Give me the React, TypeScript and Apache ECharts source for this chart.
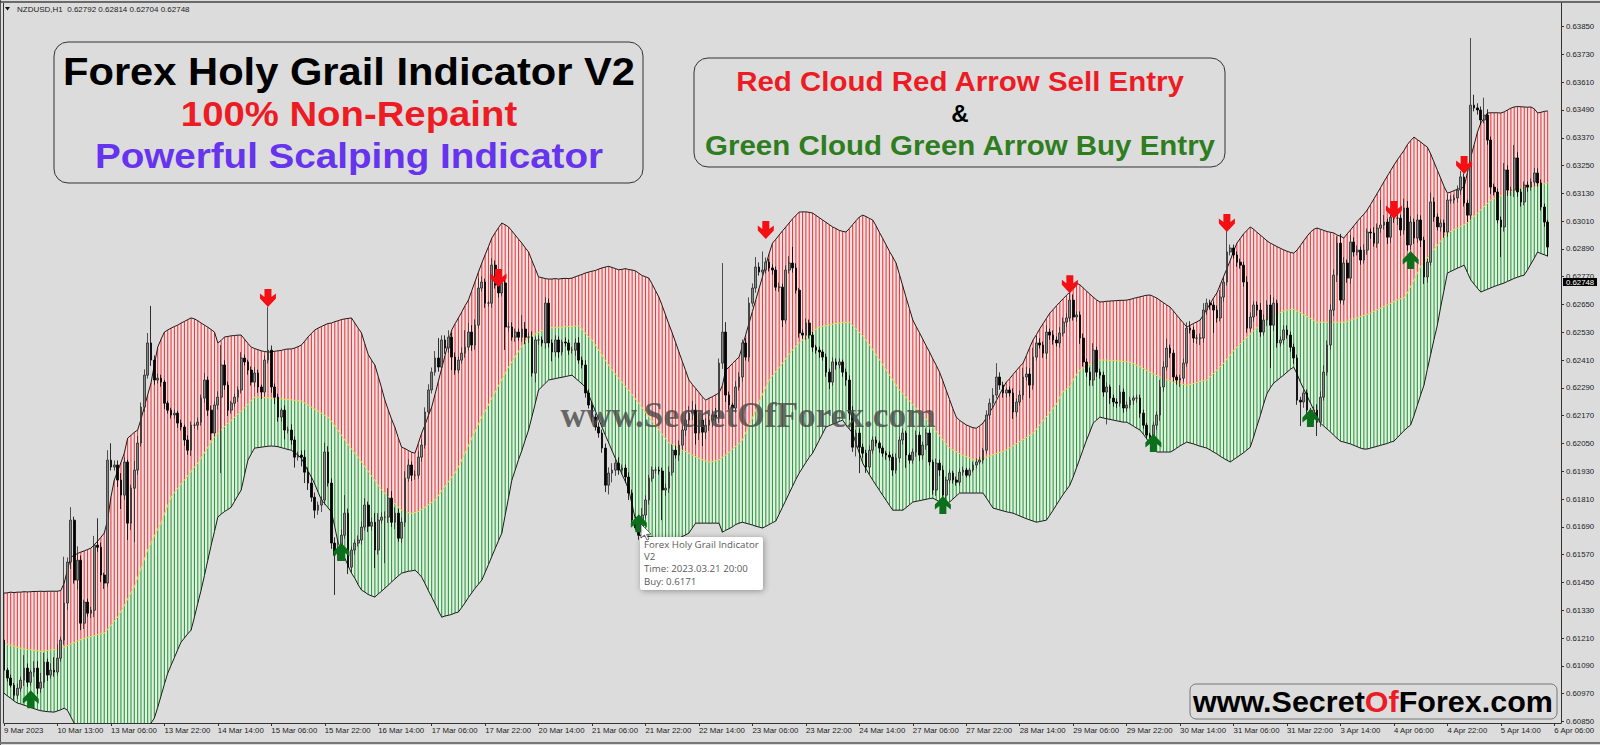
import React, { useEffect, useRef } from "react";
import * as echarts from "echarts";

// Prices are stored as points above 0.60000 (1 point = 0.00001).
const upperBand = [
1404,1405,1408,1406,1408,1408,1410,1409,1410,1411,
1411,1412,1411,1412,1412,1412,1412,1415,1447,1505,
1559,1567,1575,1581,1586,1592,1598,1612,1628,1645,
1663,1719,1818,1892,1930,1968,2008,2073,2085,2098,
2108,2155,2207,2260,2311,2390,2466,2500,2531,2540,
2548,2555,2561,2570,2577,2585,2592,2588,2580,2570,
2561,2552,2542,2531,2484,2495,2510,2512,2515,2516,
2518,2518,2500,2482,2466,2460,2455,2450,2447,2445,
2445,2448,2450,2452,2456,2458,2458,2462,2468,2475,
2492,2510,2525,2540,2548,2555,2562,2568,2570,2576,
2580,2585,2588,2590,2592,2570,2548,2527,2480,2435,
2410,2389,2340,2290,2237,2195,2155,2120,2075,2034,
2028,2020,2012,2008,2050,2095,2130,2170,2207,2262,
2318,2375,2430,2487,2540,2567,2592,2618,2645,2669,
2710,2750,2790,2829,2865,2900,2937,2960,2982,3002,
2994,2985,2968,2950,2932,2915,2895,2877,2840,2805,
2769,2766,2762,2760,2760,2762,2760,2762,2763,2762,
2764,2770,2775,2780,2786,2790,2794,2797,2803,2808,
2812,2815,2810,2805,2800,2802,2805,2801,2799,2795,
2785,2775,2770,2764,2738,2710,2682,2645,2605,2565,
2527,2487,2445,2405,2365,2324,2305,2288,2270,2252,
2237,2245,2252,2260,2268,2300,2367,2380,2395,2410,
2423,2470,2520,2570,2620,2670,2720,2769,2820,2870,
2915,2932,2950,2968,2985,3002,3020,3035,3049,3050,
3050,3048,3045,3035,3025,3015,3005,2995,2985,2978,
2970,2966,2963,2978,2995,3012,3028,3036,3030,3022,
3015,2990,2962,2935,2908,2880,2855,2829,2780,2730,
2680,2632,2583,2555,2528,2500,2472,2445,2415,2388,
2358,2320,2280,2240,2200,2164,2150,2140,2130,2124,
2118,2116,2126,2138,2160,2185,2207,2235,2262,2290,
2315,2330,2348,2365,2382,2397,2430,2465,2497,2520,
2545,2568,2590,2613,2628,2645,2660,2675,2690,2704,
2722,2743,2735,2722,2708,2695,2682,2670,2661,2662,
2664,2665,2666,2667,2668,2668,2669,2672,2676,2680,
2683,2687,2690,2691,2685,2678,2668,2658,2648,2639,
2622,2604,2587,2570,2553,2560,2568,2575,2583,2606,
2630,2654,2678,2700,2735,2770,2805,2840,2880,2915,
2935,2955,2970,2985,2975,2962,2950,2938,2925,2915,
2908,2900,2893,2886,2880,2875,2872,2885,2905,2925,
2945,2962,2975,2980,2975,2970,2965,2962,2959,2950,
2945,2937,2955,2972,2990,3008,3025,3040,3058,3082,
3106,3130,3155,3180,3204,3228,3252,3274,3295,3315,
3340,3358,3373,3362,3352,3340,3330,3300,3265,3230,
3195,3160,3131,3136,3142,3148,3152,3157,3220,3287,
3340,3395,3434,3455,3477,3478,3478,3478,3477,3482,
3490,3498,3503,3505,3504,3503,3502,3503,3495,3477,
3480,3484,3486];

const midBand = [
1188,1183,1179,1175,1170,1166,1163,1161,1159,1157,
1155,1153,1154,1156,1158,1160,1163,1167,1171,1177,
1184,1190,1197,1203,1209,1213,1217,1221,1225,1228,
1231,1247,1265,1283,1300,1325,1350,1378,1405,1430,
1470,1510,1550,1590,1620,1650,1680,1706,1745,1782,
1818,1838,1856,1875,1892,1910,1930,1948,1965,1988,
2010,2033,2056,2078,2093,2108,2123,2138,2150,2163,
2177,2190,2203,2218,2235,2250,2250,2249,2248,2247,
2246,2245,2244,2243,2241,2240,2238,2236,2234,2233,
2225,2216,2207,2198,2190,2181,2172,2164,2146,2126,
2105,2085,2065,2045,2026,2008,1991,1970,1950,1930,
1910,1890,1870,1849,1835,1820,1805,1790,1775,1762,
1756,1752,1749,1752,1757,1765,1775,1785,1795,1806,
1825,1845,1865,1885,1905,1925,1948,1978,2010,2040,
2072,2103,2134,2164,2190,2217,2245,2272,2299,2326,
2353,2380,2402,2425,2447,2470,2490,2509,2516,2523,
2530,2537,2543,2548,2550,2551,2552,2553,2554,2555,
2556,2557,2557,2543,2527,2510,2497,2475,2453,2430,
2408,2387,2367,2350,2332,2314,2296,2278,2260,2242,
2224,2204,2185,2166,2147,2128,2109,2090,2071,2052,
2045,2038,2030,2022,2015,2008,2000,1993,1986,1980,
1975,1970,1972,1975,1980,1990,2000,2012,2025,2038,
2050,2065,2096,2128,2160,2195,2230,2262,2293,2324,
2342,2360,2378,2396,2416,2436,2454,2470,2484,2496,
2508,2520,2532,2544,2553,2556,2559,2562,2565,2568,
2570,2572,2573,2574,2560,2545,2530,2514,2497,2476,
2455,2434,2412,2390,2368,2346,2325,2303,2281,2265,
2249,2233,2217,2201,2185,2170,2155,2138,2120,2102,
2084,2066,2048,2030,2022,2014,2006,2000,1994,1988,
1982,1978,1982,1986,1991,1996,2001,2006,2011,2016,
2022,2031,2040,2049,2058,2067,2076,2086,2095,2112,
2130,2148,2166,2184,2202,2220,2250,2275,2285,2294,
2325,2347,2367,2376,2384,2392,2400,2406,2410,2410,
2410,2409,2408,2407,2406,2404,2403,2401,2395,2388,
2381,2374,2366,2358,2350,2343,2337,2330,2325,2320,
2316,2312,2308,2305,2302,2305,2309,2313,2318,2321,
2324,2338,2352,2366,2380,2396,2414,2432,2450,2466,
2480,2494,2508,2522,2536,2550,2564,2578,2592,2598,
2604,2610,2616,2622,2626,2628,2630,2622,2614,2606,
2598,2590,2582,2574,2574,2574,2574,2574,2574,2574,
2574,2574,2578,2583,2588,2593,2598,2603,2608,2613,
2620,2627,2634,2641,2648,2655,2662,2670,2675,2678,
2700,2728,2755,2785,2815,2833,2851,2870,2888,2906,
2924,2942,2959,2966,2973,2980,2988,2995,3002,3017,
3031,3045,3059,3073,3087,3101,3108,3114,3120,3126,
3132,3138,3144,3147,3150,3153,3156,3158,3161,3164,
3168,3171,3175];

const lowerBand = [
972,960,950,938,929,925,920,915,910,905,
900,896,894,892,891,890,895,900,907,898,
870,842,815,790,770,750,735,720,710,700,
695,690,688,685,685,688,690,695,700,705,
740,780,800,820,842,864,910,960,1010,1058,
1092,1125,1160,1192,1210,1228,1244,1300,1360,1417,
1480,1546,1610,1670,1732,1745,1756,1765,1775,1800,
1825,1849,1915,1978,2005,2030,2032,2034,2036,2038,
2039,2038,2036,2032,2028,2024,2021,2010,2000,1985,
1960,1930,1905,1875,1840,1806,1790,1772,1754,1690,
1620,1590,1555,1522,1490,1468,1440,1417,1408,1398,
1392,1387,1400,1412,1425,1438,1452,1465,1478,1490,
1494,1498,1500,1503,1490,1473,1445,1415,1387,1358,
1328,1300,1305,1308,1312,1318,1322,1342,1362,1385,
1405,1425,1442,1460,1493,1527,1562,1596,1630,1663,
1740,1815,1892,1935,1980,2020,2065,2108,2165,2222,
2281,2295,2310,2324,2327,2330,2333,2336,2339,2342,
2345,2332,2320,2307,2293,2260,2225,2190,2155,2120,
2085,2052,2018,1985,1950,1915,1885,1849,1785,1720,
1654,1652,1650,1648,1646,1643,1641,1641,1641,1641,
1641,1641,1641,1648,1655,1663,1685,1706,1706,1706,
1706,1706,1706,1706,1706,1667,1675,1682,1690,1700,
1706,1710,1706,1702,1698,1693,1689,1685,1692,1700,
1708,1715,1745,1775,1805,1835,1865,1895,1922,1945,
1968,1990,2008,2036,2064,2092,2121,2127,2133,2139,
2145,2151,2130,2112,2095,2050,2008,1965,1940,1915,
1892,1870,1848,1826,1805,1783,1762,1762,1762,1762,
1773,1785,1797,1800,1803,1806,1809,1812,1814,1806,
1799,1791,1784,1797,1810,1823,1836,1836,1836,1836,
1836,1836,1836,1836,1815,1793,1771,1767,1763,1759,
1755,1752,1749,1743,1737,1731,1725,1720,1715,1710,
1713,1716,1719,1740,1762,1785,1808,1830,1850,1870,
1905,1945,1985,2025,2065,2100,2138,2151,2164,2160,
2157,2154,2151,2148,2145,2142,2142,2134,2125,2116,
2108,2090,2070,2050,2030,2013,2013,2013,2013,2013,
2020,2030,2040,2048,2056,2052,2048,2043,2038,2034,
2030,2022,2013,2005,1995,1986,1978,1970,1980,1990,
2000,2010,2022,2034,2078,2125,2170,2220,2265,2290,
2311,2322,2334,2345,2358,2370,2380,2350,2315,2285,
2255,2225,2195,2165,2138,2125,2112,2100,2085,2072,
2060,2056,2052,2048,2042,2036,2030,2026,2026,2030,
2034,2038,2042,2046,2050,2056,2060,2075,2090,2105,
2118,2130,2170,2215,2260,2302,2370,2435,2500,2561,
2640,2712,2786,2793,2800,2807,2813,2820,2788,2756,
2738,2720,2704,2710,2716,2722,2728,2733,2738,2743,
2750,2756,2763,2768,2773,2777,2800,2825,2850,2877,
2870,2865,2859];

const firstOpen = 1201;
const closes = [
1071,1037,1006,963,993,1028,1080,1019,1063,1080,
993,1019,1106,1050,1071,1063,1123,1201,1361,1538,
1719,1460,1546,1274,1365,1317,1330,1611,1602,1482,
1447,1978,1948,1957,1892,1827,1970,1706,1857,1935,
2052,2207,2345,2484,2410,2324,2332,2315,2224,2194,
2173,2181,2138,2121,2065,2021,2129,2129,2142,2246,
2324,2194,2095,2216,2250,2389,2302,2194,2224,2250,
2281,2419,2402,2367,2315,2354,2294,2272,2410,2453,
2294,2250,2164,2194,2108,2108,2065,1991,2000,1991,
1926,1879,1818,1762,1784,1806,2013,1879,1620,1568,
1598,1654,1749,1516,1590,1620,1633,1689,1784,1693,
1710,1590,1719,1732,1732,1814,1710,1749,1641,1710,
1900,1957,1913,1913,1991,2043,2186,2281,2358,2419,
2380,2497,2462,2509,2423,2367,2410,2440,2466,2531,
2475,2561,2721,2747,2656,2656,2820,2734,2700,2743,
2553,2553,2509,2531,2509,2544,2509,2509,2354,2497,
2497,2484,2656,2484,2445,2497,2445,2488,2484,2453,
2453,2484,2410,2389,2268,2216,2164,2121,2095,2030,
1870,1922,1935,1965,1935,1944,1905,1836,1719,1685,
1654,1741,1806,1900,1935,1935,1931,1849,1857,1926,
2021,2000,2043,2108,2151,2181,2194,2095,2151,2099,
2129,2151,2173,2164,2397,2531,2259,2216,2203,2294,
2337,2484,2423,2656,2721,2812,2790,2799,2833,2808,
2799,2725,2725,2583,2799,2829,2808,2712,2527,2518,
2570,2518,2466,2453,2445,2423,2358,2315,2402,2389,
2402,2358,2324,2181,2034,2095,2034,2008,1948,2021,
2065,2052,2030,2008,2000,1991,1935,1987,2065,2095,
2000,1978,2013,2086,2000,2043,2095,1970,1849,1965,
1935,1827,1892,1922,1892,1883,1926,1935,1913,1935,
1957,1970,1978,2021,2173,2224,2259,2337,2302,2268,
2281,2268,2186,2229,2259,2337,2350,2302,2423,2484,
2475,2440,2531,2518,2497,2484,2527,2574,2592,2669,
2596,2605,2505,2402,2358,2324,2453,2358,2345,2272,
2294,2246,2229,2224,2272,2203,2216,2237,2246,2246,
2181,2129,2086,2078,2129,2173,2294,2380,2462,2440,
2337,2324,2332,2397,2548,2540,2505,2505,2505,2626,
2656,2648,2626,2592,2682,2747,2877,2894,2864,2833,
2820,2747,2548,2596,2648,2626,2531,2583,2648,2561,
2656,2484,2497,2540,2518,2466,2419,2237,2229,2268,
2194,2164,2194,2142,2250,2358,2475,2626,2777,2915,
2669,2829,2764,2920,2877,2885,2842,2885,2963,2959,
2915,2980,2993,3006,2941,3028,3023,3023,2972,3067,
2907,3006,2937,3015,2928,2769,2833,3093,3028,2985,
3002,2963,3101,3101,3110,3144,3201,3088,3036,3511,
3499,3490,3447,3468,3360,3157,3136,3015,2985,3231,
3144,3144,3283,3136,3093,3166,3157,3179,3218,3175,
3071,3006,2898];

const upperWicks = [
56,10,15,10,20,15,56,20,10,30,
30,40,40,15,30,56,60,15,200,20,
56,15,60,20,10,15,15,40,116,20,
10,43,73,20,20,30,20,10,15,40,
30,20,25,43,160,20,20,15,10,10,
10,15,10,15,10,20,15,10,20,15,
30,15,20,15,25,86,20,15,10,15,
15,25,15,10,15,25,15,10,20,186,
20,15,15,10,20,15,25,15,15,20,
30,20,25,20,15,15,40,25,20,25,
30,25,78,20,15,15,20,25,30,15,
20,40,30,20,25,43,30,25,20,20,
30,25,15,20,25,25,20,25,20,30,
86,20,20,30,20,20,15,25,73,40,
30,25,43,25,15,10,30,20,15,30,
15,20,20,15,15,60,30,20,25,15,
20,15,26,20,15,20,15,10,20,15,
15,20,25,15,20,15,15,15,20,15,
20,25,30,20,25,15,15,20,15,15,
20,30,20,15,15,15,15,15,20,25,
25,20,20,20,30,30,40,25,30,25,
30,25,20,30,20,298,43,15,10,25,
20,15,20,25,20,43,20,80,20,15,
15,15,20,15,20,30,70,20,10,15,
20,15,15,10,15,10,15,15,20,15,
15,10,15,20,30,15,20,15,15,20,
15,15,10,10,10,15,15,20,15,20,
10,10,15,20,15,15,20,15,10,20,
15,20,15,15,10,15,15,15,10,10,
15,15,15,10,20,20,30,60,20,15,
10,15,20,15,20,40,30,25,40,30,
20,15,30,15,20,15,25,20,20,60,
25,15,15,20,15,20,30,15,15,15,
20,10,15,15,30,15,15,15,10,15,
15,15,10,10,15,15,30,25,40,15,
15,10,15,20,25,30,15,15,20,30,
20,15,15,20,30,25,95,15,15,15,
15,15,25,20,15,15,30,25,20,43,
25,15,15,20,20,15,15,15,15,15,
15,10,15,25,25,30,20,25,25,30,
40,25,15,30,20,20,15,25,15,15,
25,20,108,30,15,20,15,15,15,40,
30,25,15,25,20,15,15,40,20,15,
15,15,25,20,15,20,25,15,15,290,
45,20,15,75,25,15,15,15,15,30,
20,15,56,25,15,15,15,15,22,20,
15,15,10];

const lowerWicks = [
20,15,10,20,15,15,25,20,15,20,
25,20,25,25,15,20,15,15,20,30,
30,15,40,30,25,15,20,30,20,30,
25,15,15,15,30,60,20,73,30,233,
20,15,20,15,25,20,15,20,25,15,
15,15,20,15,25,20,25,15,20,15,
20,25,30,15,20,328,20,25,15,15,
20,15,15,20,15,20,25,30,20,15,
25,30,20,20,40,15,20,45,15,40,
47,30,20,35,20,30,20,15,25,172,
25,20,15,30,25,20,15,20,15,25,
20,78,20,15,199,25,20,30,15,20,
20,15,25,20,15,20,15,20,15,15,
20,15,25,20,56,20,15,15,20,15,
25,20,15,15,20,15,20,15,20,15,
99,20,15,20,15,20,30,25,15,40,
20,15,25,20,40,20,25,15,15,20,
15,25,15,15,20,15,20,15,20,20,
30,40,40,25,20,15,25,30,20,10,
20,15,15,20,15,15,15,130,25,20,
15,15,25,20,25,30,30,50,30,60,
30,25,30,20,25,25,30,20,15,20,
15,20,15,20,15,20,15,15,15,15,
20,15,20,30,15,15,20,15,20,15,
20,15,20,15,25,15,20,30,15,20,
15,20,25,30,20,40,112,20,25,30,
15,15,20,15,20,15,25,15,20,20,
55,15,15,20,25,20,20,15,20,25,
25,20,20,15,15,15,15,15,10,10,
10,15,10,15,15,20,20,15,20,20,
20,15,30,20,15,20,15,56,20,15,
15,20,25,20,20,15,20,15,20,15,
15,20,25,20,20,25,25,20,15,20,
140,25,20,20,15,20,15,15,20,20,
20,15,15,15,15,20,25,20,15,20,
20,20,30,15,15,15,20,25,30,20,
20,20,99,20,15,20,15,15,15,20,
15,20,20,15,20,25,20,15,25,185,
25,20,15,20,15,20,25,20,104,25,
20,15,25,60,20,15,15,20,25,30,
15,20,20,25,20,15,20,15,20,25,
15,20,20,20,30,25,20,30,25,20,
25,20,25,20,30,30,25,15,20,15,
20,25,20,15,15,20,20,15,30,20,
15,20,20,15,20,30,15,15,130,20,
25,25,30,20,20,15,20,15,20,15,
15,20,40];

const sellSignals = [[79,2678],[148,2764],[228,2972],[319,2738],[366,3002],[416,3058],[437,3252]];
const buySignals = [[8,946],[101,1581],[190,1706],[281,1784],[344,2052],[391,2160],[421,2842]];

const timeLabels = ["9 Mar 2023","10 Mar 13:00","13 Mar 06:00","13 Mar 22:00","14 Mar 14:00","15 Mar 06:00","15 Mar 22:00","16 Mar 14:00","17 Mar 06:00","17 Mar 22:00","20 Mar 14:00","21 Mar 06:00","21 Mar 22:00","22 Mar 14:00","23 Mar 06:00","23 Mar 22:00","24 Mar 14:00","27 Mar 06:00","27 Mar 22:00","28 Mar 14:00","29 Mar 06:00","29 Mar 22:00","30 Mar 14:00","31 Mar 06:00","31 Mar 22:00","3 Apr 14:00","4 Apr 06:00","4 Apr 22:00","5 Apr 14:00","6 Apr 06:00"];
const priceTicks = [0.6385,0.6373,0.6361,0.6349,0.6337,0.6325,0.6313,0.6301,0.6289,0.6277,0.6265,0.6253,0.6241,0.6229,0.6217,0.6205,0.6193,0.6181,0.6169,0.6157,0.6145,0.6133,0.6121,0.6109,0.6097,0.6085];
const titleLines = ["Forex Holy Grail Indicator V2","100% Non-Repaint","Powerful Scalping Indicator"];
const entryLines = ["Red Cloud Red Arrow Sell Entry","&","Green Cloud Green Arrow Buy Entry"];
const tooltipLines = ["Forex Holy Grail Indicator","V2","Time: 2023.03.21 20:00","Buy: 0.6171"];

const price = (p: number) => +(0.6 + p / 100000).toFixed(5);
const SLOT_COUNT = 467;
const categories = Array.from({ length: SLOT_COUNT }, (_, i) => (i % 16 === 0 ? timeLabels[i / 16] ?? "" : ""));

const candles = closes.map((c, i) => {
  const o = i === 0 ? firstOpen : closes[i - 1];
  return [price(o), price(c), price(Math.min(o, c) - lowerWicks[i]), price(Math.max(o, c) + upperWicks[i])];
});

const BAR_STEP = 1557 / (SLOT_COUNT - 1);
const cloud = (pale: string, bar: string) => (_: any, api: any) => {
  const a = api.coord([api.value(0), api.value(1)]);
  const b = api.coord([api.value(0), api.value(2)]);
  const h = b[1] - a[1];
  return {
    type: "group",
    children: [
      { type: "rect", shape: { x: a[0] - BAR_STEP / 2, y: a[1], width: BAR_STEP, height: h }, style: { fill: pale } },
      { type: "rect", shape: { x: a[0] - 0.55, y: a[1], width: 1.1, height: h }, style: { fill: bar } },
    ],
  };
};

const SANS = '"Liberation Sans"';
const txt = (text: string, x: number, y: number, fill: string, font: string, align = "center", scaleX = 1) => ({
  type: "text", z: 100, x, y, scaleX,
  style: { text, x: 0, y: 0, fill, font, textAlign: align, textVerticalAlign: "middle" },
});
const box = (x: number, y: number, width: number, height: number, r: number, stroke: string) => ({
  type: "rect", z: 99, shape: { x, y, width, height, r }, style: { fill: "transparent", stroke, lineWidth: 1 },
});
const hline = (x1: number, y1: number, x2: number, y2: number, stroke: string, lineWidth = 1) => ({
  type: "line", z: 98, shape: { x1, y1, x2, y2 }, style: { stroke, lineWidth },
});

const DOWN_ARROW = "path://M4.5 0H11.5V8L16 4.5V9.5L8 18L0 9.5V4.5L4.5 8Z";
const UP_ARROW = "path://M4.5 18H11.5V10L16 13.5V8.5L8 0L0 8.5V13.5L4.5 10Z";

export default function App() {
  const ref = useRef<HTMLDivElement>(null);
  useEffect(() => {
    document.body.style.margin = "0";
    const chart = echarts.init(ref.current!, null, { renderer: "svg" });
    chart.setOption({
      animation: false,
      backgroundColor: "#dcdcdc",
      grid: { left: 4, top: 3, width: 1557, height: 720, containLabel: false },
      xAxis: {
        type: "category", data: categories, boundaryGap: false,
        axisLine: { lineStyle: { color: "#333", width: 1 } },
        axisTick: { interval: 15, length: 3, lineStyle: { color: "#333" } },
        axisLabel: { interval: 15, align: "left", margin: 3, fontSize: 7.8, color: "#222", fontFamily: SANS, hideOverlap: false },
        splitLine: { show: false },
      },
      yAxis: {
        type: "value", position: "right", min: 0.60843, max: 0.63952, scale: true,
        axisLine: { show: true, lineStyle: { color: "#333", width: 1 } },
        axisTick: { show: true, length: 3, lineStyle: { color: "#333" }, customValues: priceTicks },
        axisLabel: { margin: 5, fontSize: 7.8, color: "#222", fontFamily: SANS, customValues: priceTicks, formatter: (v: number) => v.toFixed(5) },
        splitLine: { show: false },
      },
      series: [
        {
          type: "custom", name: "Red cloud", z: 1, clip: true, encode: { x: 0, y: [1, 2] },
          renderItem: cloud("#fde0e0", "#de4045"),
          data: upperBand.map((u, i) => [i, price(u), price(midBand[i])]),
        },
        {
          type: "custom", name: "Green cloud", z: 1, clip: true, encode: { x: 0, y: [1, 2] },
          renderItem: cloud("#dcf8dc", "#3b8f4c"),
          data: midBand.map((m, i) => [i, price(m), price(lowerBand[i])]),
        },
        { type: "line", name: "Upper", z: 2, data: upperBand.map(price), showSymbol: false, lineStyle: { color: "#1a1a1a", width: 1 } },
        { type: "line", name: "Lower", z: 2, data: lowerBand.map(price), showSymbol: false, lineStyle: { color: "#1a1a1a", width: 1 } },
        { type: "line", name: "Middle", z: 2, data: midBand.map(price), showSymbol: false, lineStyle: { color: "#e8da60", width: 1 } },
        {
          type: "candlestick", name: "NZDUSD", z: 3, barWidth: 2.2, data: candles,
          itemStyle: { color: "#858585", color0: "#000", borderColor: "#2a2a2a", borderColor0: "#000", borderWidth: 0.8 },
        },
        {
          type: "scatter", name: "Sell", z: 4, symbol: DOWN_ARROW, symbolSize: [16, 18], itemStyle: { color: "#f40f14", opacity: 1 },
          data: sellSignals.map(([i, p]) => [i, price(p)]),
        },
        {
          type: "scatter", name: "Buy", z: 4, symbol: UP_ARROW, symbolSize: [16, 18], itemStyle: { color: "#0b6f1c", opacity: 1 },
          data: buySignals.map(([i, p]) => [i, price(p)]),
        },
      ],
      graphic: [
        hline(0.5, 0, 0.5, 745, "#555"),
        hline(3.5, 3, 3.5, 723, "#333"),
        hline(0, 2, 1600, 2, "#444", 1.5),
        hline(0, 743, 1600, 743, "#777", 2),
        box(54, 42, 589, 141, 14, "#333"),
        txt(titleLines[0], 349, 72, "#000", `bold 38px ${SANS}`, "center", 1.097),
        txt(titleLines[1], 349, 114.5, "#ed1c24", `bold 35px ${SANS}`, "center", 1.095),
        txt(titleLines[2], 349, 156, "#6633ee", `bold 35px ${SANS}`, "center", 1.103),
        box(694, 58, 531, 109, 14, "#333"),
        txt(entryLines[0], 960, 81.5, "#ed1c24", `bold 28px ${SANS}`, "center", 1.053),
        txt(entryLines[1], 960, 113.5, "#000", `bold 24px ${SANS}`),
        txt(entryLines[2], 960, 145.5, "#2e7d1f", `bold 28px ${SANS}`, "center", 1.053),
        txt("www.SecretOfForex.com", 748, 415, "rgba(70,70,70,0.8)", 'bold 35.3px "Liberation Serif"'),
        {
          type: "rect", z: 99, shape: { x: 1190, y: 684, width: 367, height: 35, r: 6 },
          style: { fill: "#dcdcdc", stroke: "#777", lineWidth: 1 },
        },
        {
          type: "text", z: 100, x: 1373, y: 702, scaleX: 1.017,
          style: {
            text: "{a|www.Secret}{b|Of}{a|Forex.com}", x: 0, y: 0, textAlign: "center", textVerticalAlign: "middle",
            rich: {
              a: { fill: "#000", fontSize: 30, fontWeight: "bold", fontFamily: SANS },
              b: { fill: "#ed1c24", fontSize: 30, fontWeight: "bold", fontFamily: SANS },
            },
          },
        },
        {
          type: "rect", z: 101, shape: { x: 640, y: 537, width: 123, height: 53, r: 3 },
          style: { fill: "#fff", shadowBlur: 6, shadowColor: "rgba(0,0,0,0.35)", shadowOffsetX: 1, shadowOffsetY: 1 },
        },
        ...tooltipLines.map((t, i) => ({
          type: "text", z: 102,
          style: { text: t, x: 644, y: 544 + i * 12.4, fill: "#5a5a5a", font: '9.7px "Open Sans"', textAlign: "left", textVerticalAlign: "middle" },
        })),
        {
          type: "polygon", z: 103,
          shape: { points: [[641, 524], [641, 538], [644.5, 535], [647, 540], [649, 539], [646.5, 534.5], [651, 534]] },
          style: { fill: "#fff", stroke: "#333", lineWidth: 0.7 },
        },
        { type: "polygon", z: 100, shape: { points: [[5, 7], [10, 7], [7.5, 10.5]] }, style: { fill: "#111" } },
        txt("NZDUSD,H1  0.62792 0.62814 0.62704 0.62748", 17, 9.5, "#222", `8px ${SANS}`, "left"),
        { type: "rect", z: 100, shape: { x: 1563, y: 278, width: 34, height: 8 }, style: { fill: "#000" } },
        txt("0.62748", 1566, 282, "#fff", `7.8px ${SANS}`, "left"),
      ],
    });
    return () => chart.dispose();
  }, []);
  return <div ref={ref} style={{ width: 1600, height: 745 }} />;
}
